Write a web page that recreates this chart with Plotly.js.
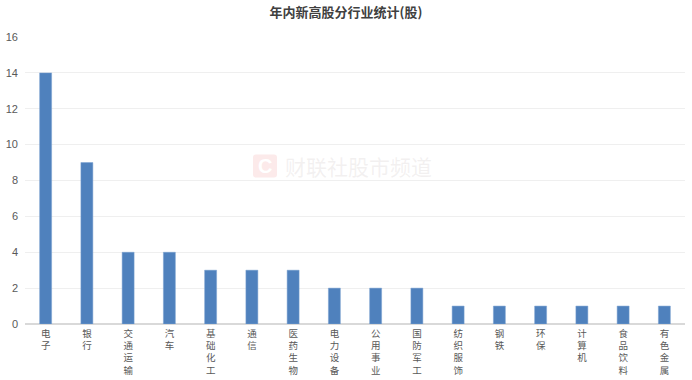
<!DOCTYPE html>
<html><head><meta charset="utf-8">
<script src="https://cdn.plot.ly/plotly-3.0.1.min.js"></script>
<style>html,body{margin:0;padding:0;background:#fff}#c{width:692px;height:380px}</style>
</head><body><div id="c"></div>
<script>
const categories = ["电子","银行","交通运输","汽车","基础化工","通信","医药生物","电力设备","公用事业","国防军工","纺织服饰","钢铁","环保","计算机","食品饮料","有色金属"];
const values = [14,9,4,4,3,3,3,2,2,2,1,1,1,1,1,1];
const yTicks = [0,2,4,6,8,10,12,14,16];

const annotations = [];
// watermark
annotations.push({x:0.5, y:0.5, xref:"paper", yref:"paper", xshift:3, yshift:15,
  text:"财联社股市频道", showarrow:false,
  font:{family:"Noto Sans CJK SC, sans-serif", size:21, color:"rgba(200,190,190,0.22)"}});
annotations.push({x:0.5, y:0.5, xref:"paper", yref:"paper", xshift:-90, yshift:15,
  text:"<b>C</b>", showarrow:false,
  font:{family:"Arial, sans-serif", size:20, color:"#ffffff"}});

const layout = {
  width:692, height:380,
  margin:{l:25, r:7, t:37, b:56},
  paper_bgcolor:"#fff", plot_bgcolor:"#fff",
  title:{text:"<b>年内新高股分行业统计(股)</b>", x:0.5, xanchor:"center", y:0.967, yanchor:"middle",
    font:{family:"Noto Sans CJK SC, sans-serif", size:13, color:"#404040"}},
  showlegend:false,
  bargap:0.71,
  xaxis:{type:"category", tickvals:categories, ticktext:categories.map(c=>[...c].join("<br>")),
    tickangle:0, ticklabelstandoff:2,
    tickfont:{family:"Noto Sans CJK SC, sans-serif", size:9.5, color:"#595959"},
    showgrid:false, zeroline:false, showline:false, ticks:"", automargin:false},
  yaxis:{range:[0,16], tickvals:yTicks, showgrid:true, gridcolor:"#efefef", gridwidth:1,
    zeroline:true, zerolinecolor:"#d9d9d9", zerolinewidth:1.5, showline:false, ticks:"",
    ticklabelstandoff:6,
    tickfont:{family:"Liberation Sans, Arial, sans-serif", size:11, color:"#595959"}},
  shapes:[{type:"path", xref:"paper", yref:"paper", xsizemode:"pixel", ysizemode:"pixel",
    xanchor:0.5, yanchor:0.5,
    path:"M -99,3 L -81,3 Q -78,3 -78,6 L -78,23 Q -78,26 -81,26 L -99,26 Q -102,26 -102,23 L -102,6 Q -102,3 -99,3 Z",
    fillcolor:"rgba(245,170,170,0.25)", line:{width:0}, layer:"below"}],
  annotations:annotations
};
const trace = {type:"bar", x:categories, y:values,
  marker:{color:"#4f81bd", line:{color:"#7ba0d0", width:0.5}}, hoverinfo:"skip"};
Plotly.newPlot("c",[trace],layout,{displayModeBar:false,staticPlot:true});
</script></body></html>
